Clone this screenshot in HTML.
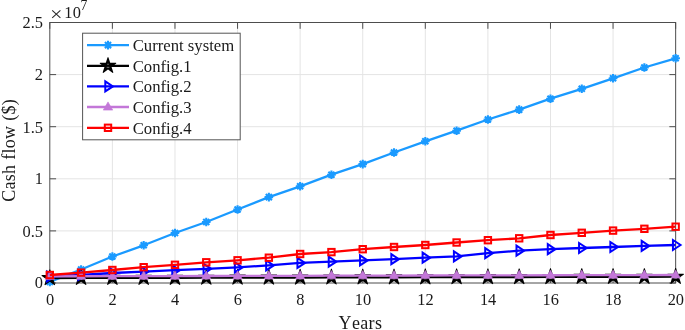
<!DOCTYPE html><html><head><meta charset="utf-8"><style>html,body{margin:0;padding:0;background:#fff}svg{display:block;will-change:transform}text{font-family:"Liberation Serif",serif;fill:#1a1a1a}</style></head><body>
<svg width="685" height="330" viewBox="0 0 685 330">
<rect width="685" height="330" fill="#fff"/>
<path d="M112.38,22.5V283.0M174.97,22.5V283.0M237.56,22.5V283.0M300.14,22.5V283.0M362.73,22.5V283.0M425.31,22.5V283.0M487.90,22.5V283.0M550.48,22.5V283.0M613.06,22.5V283.0M49.8,230.90H675.65M49.8,178.80H675.65M49.8,126.70H675.65M49.8,74.60H675.65" stroke="#e4e4e4" stroke-width="1" fill="none"/>
<rect x="49.8" y="22.5" width="625.85" height="260.5" fill="none" stroke="#4d4d4d" stroke-width="1"/>
<path d="M49.80,283.0v-6.3M49.80,22.5v6.3M112.38,283.0v-6.3M112.38,22.5v6.3M174.97,283.0v-6.3M174.97,22.5v6.3M237.56,283.0v-6.3M237.56,22.5v6.3M300.14,283.0v-6.3M300.14,22.5v6.3M362.73,283.0v-6.3M362.73,22.5v6.3M425.31,283.0v-6.3M425.31,22.5v6.3M487.90,283.0v-6.3M487.90,22.5v6.3M550.48,283.0v-6.3M550.48,22.5v6.3M613.06,283.0v-6.3M613.06,22.5v6.3M675.65,283.0v-6.3M675.65,22.5v6.3M49.8,283.00h6.3M675.65,283.00h-6.3M49.8,230.90h6.3M675.65,230.90h-6.3M49.8,178.80h6.3M675.65,178.80h-6.3M49.8,126.70h6.3M675.65,126.70h-6.3M49.8,74.60h6.3M675.65,74.60h-6.3M49.8,22.50h6.3M675.65,22.50h-6.3" stroke="#4d4d4d" stroke-width="1" fill="none"/>
<text x="50.00" y="304.7" font-size="16.4" text-anchor="middle">0</text>
<text x="112.58" y="304.7" font-size="16.4" text-anchor="middle">2</text>
<text x="175.17" y="304.7" font-size="16.4" text-anchor="middle">4</text>
<text x="237.75" y="304.7" font-size="16.4" text-anchor="middle">6</text>
<text x="300.34" y="304.7" font-size="16.4" text-anchor="middle">8</text>
<text x="362.93" y="304.7" font-size="16.4" text-anchor="middle">10</text>
<text x="425.51" y="304.7" font-size="16.4" text-anchor="middle">12</text>
<text x="488.10" y="304.7" font-size="16.4" text-anchor="middle">14</text>
<text x="550.68" y="304.7" font-size="16.4" text-anchor="middle">16</text>
<text x="613.26" y="304.7" font-size="16.4" text-anchor="middle">18</text>
<text x="675.85" y="304.7" font-size="16.4" text-anchor="middle">20</text>
<text x="43.0" y="288.20" font-size="16.4" text-anchor="end">0</text>
<text x="43.0" y="236.60" font-size="16.4" text-anchor="end">0.5</text>
<text x="43.0" y="184.40" font-size="16.4" text-anchor="end">1</text>
<text x="43.0" y="132.70" font-size="16.4" text-anchor="end">1.5</text>
<text x="43.0" y="79.60" font-size="16.4" text-anchor="end">2</text>
<text x="43.0" y="27.70" font-size="16.4" text-anchor="end">2.5</text>
<path d="M52.2,10.4L60.4,17.8M60.4,10.4L52.2,17.8" stroke="#2a2a2a" stroke-width="1.1" fill="none"/>
<text x="64.3" y="17.9" font-size="16.4" letter-spacing="0.2">10</text>
<text x="80.5" y="9.7" font-size="13.7">7</text>
<text x="360.4" y="328.9" font-size="18" text-anchor="middle" letter-spacing="0.35" style="font-kerning:none">Years</text>
<text transform="translate(14.7,150.4) rotate(-90)" font-size="18" text-anchor="middle" letter-spacing="0.3">Cash flow ($)</text>
<g clip-path="none">
<polyline points="49.80,281.90 81.09,269.50 112.38,256.50 143.68,245.30 174.97,233.00 206.26,222.00 237.56,209.50 268.85,197.10 300.14,186.30 331.43,174.70 362.73,164.10 394.02,152.50 425.31,141.30 456.60,130.70 487.90,119.50 519.19,109.60 550.48,98.70 581.77,88.80 613.06,78.30 644.36,67.50 675.65,58.30" fill="none" stroke="#1a9aff" stroke-width="2.3" stroke-linejoin="round"/>
<path d="M45.50,281.90L54.10,281.90M46.76,278.86L52.84,284.94M49.80,277.60L49.80,286.20M52.84,278.86L46.76,284.94" stroke="#1a9aff" stroke-width="2.1" fill="none"/>
<path d="M76.79,269.50L85.39,269.50M78.05,266.46L84.13,272.54M81.09,265.20L81.09,273.80M84.13,266.46L78.05,272.54" stroke="#1a9aff" stroke-width="2.1" fill="none"/>
<path d="M108.08,256.50L116.68,256.50M109.34,253.46L115.43,259.54M112.38,252.20L112.38,260.80M115.43,253.46L109.34,259.54" stroke="#1a9aff" stroke-width="2.1" fill="none"/>
<path d="M139.38,245.30L147.98,245.30M140.64,242.26L146.72,248.34M143.68,241.00L143.68,249.60M146.72,242.26L140.64,248.34" stroke="#1a9aff" stroke-width="2.1" fill="none"/>
<path d="M170.67,233.00L179.27,233.00M171.93,229.96L178.01,236.04M174.97,228.70L174.97,237.30M178.01,229.96L171.93,236.04" stroke="#1a9aff" stroke-width="2.1" fill="none"/>
<path d="M201.96,222.00L210.56,222.00M203.22,218.96L209.30,225.04M206.26,217.70L206.26,226.30M209.30,218.96L203.22,225.04" stroke="#1a9aff" stroke-width="2.1" fill="none"/>
<path d="M233.25,209.50L241.86,209.50M234.51,206.46L240.60,212.54M237.56,205.20L237.56,213.80M240.60,206.46L234.51,212.54" stroke="#1a9aff" stroke-width="2.1" fill="none"/>
<path d="M264.55,197.10L273.15,197.10M265.81,194.06L271.89,200.14M268.85,192.80L268.85,201.40M271.89,194.06L265.81,200.14" stroke="#1a9aff" stroke-width="2.1" fill="none"/>
<path d="M295.84,186.30L304.44,186.30M297.10,183.26L303.18,189.34M300.14,182.00L300.14,190.60M303.18,183.26L297.10,189.34" stroke="#1a9aff" stroke-width="2.1" fill="none"/>
<path d="M327.13,174.70L335.73,174.70M328.39,171.66L334.47,177.74M331.43,170.40L331.43,179.00M334.47,171.66L328.39,177.74" stroke="#1a9aff" stroke-width="2.1" fill="none"/>
<path d="M358.43,164.10L367.03,164.10M359.68,161.06L365.77,167.14M362.73,159.80L362.73,168.40M365.77,161.06L359.68,167.14" stroke="#1a9aff" stroke-width="2.1" fill="none"/>
<path d="M389.72,152.50L398.32,152.50M390.98,149.46L397.06,155.54M394.02,148.20L394.02,156.80M397.06,149.46L390.98,155.54" stroke="#1a9aff" stroke-width="2.1" fill="none"/>
<path d="M421.01,141.30L429.61,141.30M422.27,138.26L428.35,144.34M425.31,137.00L425.31,145.60M428.35,138.26L422.27,144.34" stroke="#1a9aff" stroke-width="2.1" fill="none"/>
<path d="M452.30,130.70L460.90,130.70M453.56,127.66L459.64,133.74M456.60,126.40L456.60,135.00M459.64,127.66L453.56,133.74" stroke="#1a9aff" stroke-width="2.1" fill="none"/>
<path d="M483.60,119.50L492.20,119.50M484.85,116.46L490.94,122.54M487.90,115.20L487.90,123.80M490.94,116.46L484.85,122.54" stroke="#1a9aff" stroke-width="2.1" fill="none"/>
<path d="M514.89,109.60L523.49,109.60M516.15,106.56L522.23,112.64M519.19,105.30L519.19,113.90M522.23,106.56L516.15,112.64" stroke="#1a9aff" stroke-width="2.1" fill="none"/>
<path d="M546.18,98.70L554.78,98.70M547.44,95.66L553.52,101.74M550.48,94.40L550.48,103.00M553.52,95.66L547.44,101.74" stroke="#1a9aff" stroke-width="2.1" fill="none"/>
<path d="M577.47,88.80L586.07,88.80M578.73,85.76L584.81,91.84M581.77,84.50L581.77,93.10M584.81,85.76L578.73,91.84" stroke="#1a9aff" stroke-width="2.1" fill="none"/>
<path d="M608.76,78.30L617.36,78.30M610.02,75.26L616.11,81.34M613.06,74.00L613.06,82.60M616.11,75.26L610.02,81.34" stroke="#1a9aff" stroke-width="2.1" fill="none"/>
<path d="M640.06,67.50L648.66,67.50M641.32,64.46L647.40,70.54M644.36,63.20L644.36,71.80M647.40,64.46L641.32,70.54" stroke="#1a9aff" stroke-width="2.1" fill="none"/>
<path d="M671.35,58.30L679.95,58.30M672.61,55.26L678.69,61.34M675.65,54.00L675.65,62.60M678.69,55.26L672.61,61.34" stroke="#1a9aff" stroke-width="2.1" fill="none"/>
<polyline points="49.80,278.00 81.09,277.94 112.38,277.87 143.68,277.81 174.97,277.74 206.26,277.68 237.56,277.61 268.85,277.55 300.14,277.48 331.43,277.42 362.73,277.35 394.02,277.28 425.31,277.22 456.60,277.15 487.90,277.09 519.19,277.02 550.48,276.96 581.77,276.89 613.06,276.83 644.36,276.76 675.65,276.70" fill="none" stroke="#000000" stroke-width="2.3" stroke-linejoin="round"/>
<polygon points="49.41,269.40 50.19,269.40 52.00,274.97 57.86,274.97 58.10,275.71 53.36,279.16 55.17,284.73 54.54,285.19 49.80,281.74 45.06,285.19 44.43,284.73 46.24,279.16 41.50,275.71 41.74,274.97 47.60,274.97" fill="#000000"/><path d="M49.00,276.45h1.6M48.50,279.55h2.6" stroke="#fff" stroke-width="0.7" opacity="0.65" fill="none"/>
<polygon points="80.70,269.33 81.48,269.33 83.29,274.91 89.15,274.91 89.39,275.65 84.65,279.09 86.46,284.66 85.83,285.12 81.09,281.68 76.35,285.12 75.72,284.66 77.53,279.09 72.79,275.65 73.03,274.91 78.89,274.91" fill="#000000"/><path d="M80.29,276.38h1.6M79.79,279.49h2.6" stroke="#fff" stroke-width="0.7" opacity="0.65" fill="none"/>
<polygon points="112.00,269.27 112.77,269.27 114.59,274.84 120.44,274.84 120.68,275.58 115.95,279.03 117.76,284.60 117.12,285.06 112.38,281.61 107.65,285.06 107.01,284.60 108.82,279.03 104.09,275.58 104.33,274.84 110.18,274.84" fill="#000000"/><path d="M111.58,276.32h1.6M111.08,279.42h2.6" stroke="#fff" stroke-width="0.7" opacity="0.65" fill="none"/>
<polygon points="143.29,269.20 144.07,269.20 145.88,274.78 151.74,274.78 151.98,275.52 147.24,278.96 149.05,284.53 148.42,284.99 143.68,281.55 138.94,284.99 138.31,284.53 140.12,278.96 135.38,275.52 135.62,274.78 141.48,274.78" fill="#000000"/><path d="M142.88,276.25h1.6M142.38,279.36h2.6" stroke="#fff" stroke-width="0.7" opacity="0.65" fill="none"/>
<polygon points="174.58,269.14 175.36,269.14 177.17,274.71 183.03,274.71 183.27,275.45 178.53,278.90 180.34,284.47 179.71,284.93 174.97,281.48 170.23,284.93 169.60,284.47 171.41,278.90 166.67,275.45 166.91,274.71 172.77,274.71" fill="#000000"/><path d="M174.17,276.19h1.6M173.67,279.29h2.6" stroke="#fff" stroke-width="0.7" opacity="0.65" fill="none"/>
<polygon points="205.87,269.07 206.65,269.07 208.46,274.65 214.32,274.65 214.56,275.39 209.82,278.83 211.63,284.40 211.00,284.86 206.26,281.42 201.52,284.86 200.89,284.40 202.70,278.83 197.96,275.39 198.20,274.65 204.06,274.65" fill="#000000"/><path d="M205.46,276.12h1.6M204.96,279.23h2.6" stroke="#fff" stroke-width="0.7" opacity="0.65" fill="none"/>
<polygon points="237.17,269.01 237.94,269.01 239.76,274.58 245.61,274.58 245.85,275.32 241.12,278.77 242.93,284.34 242.29,284.80 237.56,281.35 232.82,284.80 232.18,284.34 233.99,278.77 229.26,275.32 229.50,274.58 235.35,274.58" fill="#000000"/><path d="M236.75,276.06h1.6M236.25,279.16h2.6" stroke="#fff" stroke-width="0.7" opacity="0.65" fill="none"/>
<polygon points="268.46,268.94 269.24,268.94 271.05,274.52 276.91,274.52 277.15,275.26 272.41,278.70 274.22,284.27 273.59,284.73 268.85,281.29 264.11,284.73 263.48,284.27 265.29,278.70 260.55,275.26 260.79,274.52 266.65,274.52" fill="#000000"/><path d="M268.05,276.00h1.6M267.55,279.10h2.6" stroke="#fff" stroke-width="0.7" opacity="0.65" fill="none"/>
<polygon points="299.75,268.88 300.53,268.88 302.34,274.45 308.20,274.45 308.44,275.19 303.70,278.64 305.51,284.21 304.88,284.67 300.14,281.22 295.40,284.67 294.77,284.21 296.58,278.64 291.84,275.19 292.08,274.45 297.94,274.45" fill="#000000"/><path d="M299.34,275.93h1.6M298.84,279.03h2.6" stroke="#fff" stroke-width="0.7" opacity="0.65" fill="none"/>
<polygon points="331.04,268.81 331.82,268.81 333.63,274.39 339.49,274.39 339.73,275.13 334.99,278.57 336.80,284.14 336.17,284.60 331.43,281.16 326.69,284.60 326.06,284.14 327.87,278.57 323.13,275.13 323.37,274.39 329.23,274.39" fill="#000000"/><path d="M330.63,275.87h1.6M330.13,278.97h2.6" stroke="#fff" stroke-width="0.7" opacity="0.65" fill="none"/>
<polygon points="362.34,268.75 363.11,268.75 364.93,274.32 370.78,274.32 371.02,275.06 366.29,278.51 368.10,284.08 367.46,284.54 362.73,281.09 357.99,284.54 357.35,284.08 359.16,278.51 354.43,275.06 354.67,274.32 360.52,274.32" fill="#000000"/><path d="M361.93,275.80h1.6M361.43,278.90h2.6" stroke="#fff" stroke-width="0.7" opacity="0.65" fill="none"/>
<polygon points="393.63,268.68 394.41,268.68 396.22,274.26 402.08,274.26 402.32,275.00 397.58,278.44 399.39,284.01 398.76,284.47 394.02,281.03 389.28,284.47 388.65,284.01 390.46,278.44 385.72,275.00 385.96,274.26 391.82,274.26" fill="#000000"/><path d="M393.22,275.73h1.6M392.72,278.83h2.6" stroke="#fff" stroke-width="0.7" opacity="0.65" fill="none"/>
<polygon points="424.92,268.62 425.70,268.62 427.51,274.19 433.37,274.19 433.61,274.93 428.87,278.38 430.68,283.95 430.05,284.41 425.31,280.96 420.57,284.41 419.94,283.95 421.75,278.38 417.01,274.93 417.25,274.19 423.11,274.19" fill="#000000"/><path d="M424.51,275.67h1.6M424.01,278.77h2.6" stroke="#fff" stroke-width="0.7" opacity="0.65" fill="none"/>
<polygon points="456.21,268.55 456.99,268.55 458.80,274.13 464.66,274.13 464.90,274.87 460.16,278.31 461.97,283.88 461.34,284.34 456.60,280.90 451.86,284.34 451.23,283.88 453.04,278.31 448.30,274.87 448.54,274.13 454.40,274.13" fill="#000000"/><path d="M455.80,275.60h1.6M455.30,278.70h2.6" stroke="#fff" stroke-width="0.7" opacity="0.65" fill="none"/>
<polygon points="487.51,268.49 488.28,268.49 490.10,274.06 495.95,274.06 496.19,274.80 491.46,278.25 493.27,283.82 492.63,284.28 487.90,280.83 483.16,284.28 482.52,283.82 484.33,278.25 479.60,274.80 479.84,274.06 485.69,274.06" fill="#000000"/><path d="M487.10,275.54h1.6M486.60,278.64h2.6" stroke="#fff" stroke-width="0.7" opacity="0.65" fill="none"/>
<polygon points="518.80,268.42 519.58,268.42 521.39,274.00 527.25,274.00 527.49,274.74 522.75,278.18 524.56,283.75 523.93,284.21 519.19,280.77 514.45,284.21 513.82,283.75 515.63,278.18 510.89,274.74 511.13,274.00 516.99,274.00" fill="#000000"/><path d="M518.39,275.47h1.6M517.89,278.57h2.6" stroke="#fff" stroke-width="0.7" opacity="0.65" fill="none"/>
<polygon points="550.09,268.36 550.87,268.36 552.68,273.93 558.54,273.93 558.78,274.67 554.04,278.12 555.85,283.69 555.22,284.15 550.48,280.70 545.74,284.15 545.11,283.69 546.92,278.12 542.18,274.67 542.42,273.93 548.28,273.93" fill="#000000"/><path d="M549.68,275.41h1.6M549.18,278.51h2.6" stroke="#fff" stroke-width="0.7" opacity="0.65" fill="none"/>
<polygon points="581.38,268.29 582.16,268.29 583.97,273.87 589.83,273.87 590.07,274.61 585.33,278.05 587.14,283.62 586.51,284.08 581.77,280.64 577.03,284.08 576.40,283.62 578.21,278.05 573.47,274.61 573.71,273.87 579.57,273.87" fill="#000000"/><path d="M580.97,275.34h1.6M580.47,278.44h2.6" stroke="#fff" stroke-width="0.7" opacity="0.65" fill="none"/>
<polygon points="612.68,268.23 613.45,268.23 615.27,273.80 621.12,273.80 621.36,274.54 616.63,277.99 618.44,283.56 617.80,284.02 613.06,280.57 608.33,284.02 607.69,283.56 609.50,277.99 604.77,274.54 605.01,273.80 610.86,273.80" fill="#000000"/><path d="M612.26,275.28h1.6M611.76,278.38h2.6" stroke="#fff" stroke-width="0.7" opacity="0.65" fill="none"/>
<polygon points="643.97,268.16 644.75,268.16 646.56,273.74 652.42,273.74 652.66,274.48 647.92,277.92 649.73,283.49 649.10,283.95 644.36,280.51 639.62,283.95 638.99,283.49 640.80,277.92 636.06,274.48 636.30,273.74 642.16,273.74" fill="#000000"/><path d="M643.56,275.21h1.6M643.06,278.31h2.6" stroke="#fff" stroke-width="0.7" opacity="0.65" fill="none"/>
<polygon points="675.26,268.10 676.04,268.10 677.85,273.67 683.71,273.67 683.95,274.41 679.21,277.86 681.02,283.43 680.39,283.89 675.65,280.44 670.91,283.89 670.28,283.43 672.09,277.86 667.35,274.41 667.59,273.67 673.45,273.67" fill="#000000"/><path d="M674.85,275.15h1.6M674.35,278.25h2.6" stroke="#fff" stroke-width="0.7" opacity="0.65" fill="none"/>
<polyline points="49.80,276.50 81.09,275.00 112.38,273.00 143.68,271.60 174.97,270.20 206.26,268.80 237.56,267.40 268.85,265.40 300.14,262.90 331.43,261.70 362.73,260.40 394.02,259.20 425.31,257.70 456.60,256.40 487.90,253.20 519.19,250.70 550.48,249.20 581.77,248.00 613.06,247.00 644.36,245.90 675.65,245.00" fill="none" stroke="#0000ff" stroke-width="2.3" stroke-linejoin="round"/>
<path d="M47.10,271.50L54.70,276.50L47.10,281.50Z" fill="none" stroke="#0000ff" stroke-width="2" stroke-linejoin="miter"/>
<path d="M78.39,270.00L85.99,275.00L78.39,280.00Z" fill="none" stroke="#0000ff" stroke-width="2" stroke-linejoin="miter"/>
<path d="M109.68,268.00L117.28,273.00L109.68,278.00Z" fill="none" stroke="#0000ff" stroke-width="2" stroke-linejoin="miter"/>
<path d="M140.98,266.60L148.58,271.60L140.98,276.60Z" fill="none" stroke="#0000ff" stroke-width="2" stroke-linejoin="miter"/>
<path d="M172.27,265.20L179.87,270.20L172.27,275.20Z" fill="none" stroke="#0000ff" stroke-width="2" stroke-linejoin="miter"/>
<path d="M203.56,263.80L211.16,268.80L203.56,273.80Z" fill="none" stroke="#0000ff" stroke-width="2" stroke-linejoin="miter"/>
<path d="M234.86,262.40L242.46,267.40L234.86,272.40Z" fill="none" stroke="#0000ff" stroke-width="2" stroke-linejoin="miter"/>
<path d="M266.15,260.40L273.75,265.40L266.15,270.40Z" fill="none" stroke="#0000ff" stroke-width="2" stroke-linejoin="miter"/>
<path d="M297.44,257.90L305.04,262.90L297.44,267.90Z" fill="none" stroke="#0000ff" stroke-width="2" stroke-linejoin="miter"/>
<path d="M328.73,256.70L336.33,261.70L328.73,266.70Z" fill="none" stroke="#0000ff" stroke-width="2" stroke-linejoin="miter"/>
<path d="M360.03,255.40L367.62,260.40L360.03,265.40Z" fill="none" stroke="#0000ff" stroke-width="2" stroke-linejoin="miter"/>
<path d="M391.32,254.20L398.92,259.20L391.32,264.20Z" fill="none" stroke="#0000ff" stroke-width="2" stroke-linejoin="miter"/>
<path d="M422.61,252.70L430.21,257.70L422.61,262.70Z" fill="none" stroke="#0000ff" stroke-width="2" stroke-linejoin="miter"/>
<path d="M453.90,251.40L461.50,256.40L453.90,261.40Z" fill="none" stroke="#0000ff" stroke-width="2" stroke-linejoin="miter"/>
<path d="M485.20,248.20L492.80,253.20L485.20,258.20Z" fill="none" stroke="#0000ff" stroke-width="2" stroke-linejoin="miter"/>
<path d="M516.49,245.70L524.09,250.70L516.49,255.70Z" fill="none" stroke="#0000ff" stroke-width="2" stroke-linejoin="miter"/>
<path d="M547.78,244.20L555.38,249.20L547.78,254.20Z" fill="none" stroke="#0000ff" stroke-width="2" stroke-linejoin="miter"/>
<path d="M579.07,243.00L586.67,248.00L579.07,253.00Z" fill="none" stroke="#0000ff" stroke-width="2" stroke-linejoin="miter"/>
<path d="M610.36,242.00L617.96,247.00L610.36,252.00Z" fill="none" stroke="#0000ff" stroke-width="2" stroke-linejoin="miter"/>
<path d="M641.66,240.90L649.26,245.90L641.66,250.90Z" fill="none" stroke="#0000ff" stroke-width="2" stroke-linejoin="miter"/>
<path d="M672.95,240.00L680.55,245.00L672.95,250.00Z" fill="none" stroke="#0000ff" stroke-width="2" stroke-linejoin="miter"/>
<polyline points="49.80,276.30 81.09,276.24 112.38,276.17 143.68,276.11 174.97,276.04 206.26,275.98 237.56,275.91 268.85,275.85 300.14,275.78 331.43,275.72 362.73,275.65 394.02,275.58 425.31,275.52 456.60,275.45 487.90,275.39 519.19,275.32 550.48,275.26 581.77,275.19 613.06,275.13 644.36,275.06 675.65,275.00" fill="none" stroke="#c377d8" stroke-width="2.3" stroke-linejoin="round"/>
<path d="M49.80,271.20L54.50,279.40L45.10,279.40Z" fill="#c377d8" stroke="#c377d8" stroke-width="0.6"/>
<path d="M81.09,271.13L85.79,279.34L76.39,279.34Z" fill="#c377d8" stroke="#c377d8" stroke-width="0.6"/>
<path d="M112.38,271.07L117.08,279.27L107.68,279.27Z" fill="#c377d8" stroke="#c377d8" stroke-width="0.6"/>
<path d="M143.68,271.00L148.38,279.21L138.98,279.21Z" fill="#c377d8" stroke="#c377d8" stroke-width="0.6"/>
<path d="M174.97,270.94L179.67,279.14L170.27,279.14Z" fill="#c377d8" stroke="#c377d8" stroke-width="0.6"/>
<path d="M206.26,270.88L210.96,279.08L201.56,279.08Z" fill="#c377d8" stroke="#c377d8" stroke-width="0.6"/>
<path d="M237.56,270.81L242.25,279.01L232.86,279.01Z" fill="#c377d8" stroke="#c377d8" stroke-width="0.6"/>
<path d="M268.85,270.75L273.55,278.95L264.15,278.95Z" fill="#c377d8" stroke="#c377d8" stroke-width="0.6"/>
<path d="M300.14,270.68L304.84,278.88L295.44,278.88Z" fill="#c377d8" stroke="#c377d8" stroke-width="0.6"/>
<path d="M331.43,270.62L336.13,278.82L326.73,278.82Z" fill="#c377d8" stroke="#c377d8" stroke-width="0.6"/>
<path d="M362.73,270.55L367.43,278.75L358.03,278.75Z" fill="#c377d8" stroke="#c377d8" stroke-width="0.6"/>
<path d="M394.02,270.48L398.72,278.69L389.32,278.69Z" fill="#c377d8" stroke="#c377d8" stroke-width="0.6"/>
<path d="M425.31,270.42L430.01,278.62L420.61,278.62Z" fill="#c377d8" stroke="#c377d8" stroke-width="0.6"/>
<path d="M456.60,270.35L461.30,278.56L451.90,278.56Z" fill="#c377d8" stroke="#c377d8" stroke-width="0.6"/>
<path d="M487.90,270.29L492.60,278.49L483.20,278.49Z" fill="#c377d8" stroke="#c377d8" stroke-width="0.6"/>
<path d="M519.19,270.22L523.89,278.43L514.49,278.43Z" fill="#c377d8" stroke="#c377d8" stroke-width="0.6"/>
<path d="M550.48,270.16L555.18,278.36L545.78,278.36Z" fill="#c377d8" stroke="#c377d8" stroke-width="0.6"/>
<path d="M581.77,270.09L586.47,278.30L577.07,278.30Z" fill="#c377d8" stroke="#c377d8" stroke-width="0.6"/>
<path d="M613.06,270.03L617.76,278.23L608.36,278.23Z" fill="#c377d8" stroke="#c377d8" stroke-width="0.6"/>
<path d="M644.36,269.96L649.06,278.17L639.66,278.17Z" fill="#c377d8" stroke="#c377d8" stroke-width="0.6"/>
<path d="M675.65,269.90L680.35,278.10L670.95,278.10Z" fill="#c377d8" stroke="#c377d8" stroke-width="0.6"/>
<polyline points="49.80,275.00 81.09,272.60 112.38,270.00 143.68,267.20 174.97,264.80 206.26,262.30 237.56,260.30 268.85,257.70 300.14,254.00 331.43,252.10 362.73,249.20 394.02,247.00 425.31,245.00 456.60,242.50 487.90,240.20 519.19,238.30 550.48,235.00 581.77,232.80 613.06,230.60 644.36,228.80 675.65,226.70" fill="none" stroke="#ff0000" stroke-width="2.3" stroke-linejoin="round"/>
<rect x="46.60" y="271.80" width="6.4" height="6.4" fill="none" stroke="#ff0000" stroke-width="2"/>
<rect x="77.89" y="269.40" width="6.4" height="6.4" fill="none" stroke="#ff0000" stroke-width="2"/>
<rect x="109.18" y="266.80" width="6.4" height="6.4" fill="none" stroke="#ff0000" stroke-width="2"/>
<rect x="140.48" y="264.00" width="6.4" height="6.4" fill="none" stroke="#ff0000" stroke-width="2"/>
<rect x="171.77" y="261.60" width="6.4" height="6.4" fill="none" stroke="#ff0000" stroke-width="2"/>
<rect x="203.06" y="259.10" width="6.4" height="6.4" fill="none" stroke="#ff0000" stroke-width="2"/>
<rect x="234.36" y="257.10" width="6.4" height="6.4" fill="none" stroke="#ff0000" stroke-width="2"/>
<rect x="265.65" y="254.50" width="6.4" height="6.4" fill="none" stroke="#ff0000" stroke-width="2"/>
<rect x="296.94" y="250.80" width="6.4" height="6.4" fill="none" stroke="#ff0000" stroke-width="2"/>
<rect x="328.23" y="248.90" width="6.4" height="6.4" fill="none" stroke="#ff0000" stroke-width="2"/>
<rect x="359.53" y="246.00" width="6.4" height="6.4" fill="none" stroke="#ff0000" stroke-width="2"/>
<rect x="390.82" y="243.80" width="6.4" height="6.4" fill="none" stroke="#ff0000" stroke-width="2"/>
<rect x="422.11" y="241.80" width="6.4" height="6.4" fill="none" stroke="#ff0000" stroke-width="2"/>
<rect x="453.40" y="239.30" width="6.4" height="6.4" fill="none" stroke="#ff0000" stroke-width="2"/>
<rect x="484.70" y="237.00" width="6.4" height="6.4" fill="none" stroke="#ff0000" stroke-width="2"/>
<rect x="515.99" y="235.10" width="6.4" height="6.4" fill="none" stroke="#ff0000" stroke-width="2"/>
<rect x="547.28" y="231.80" width="6.4" height="6.4" fill="none" stroke="#ff0000" stroke-width="2"/>
<rect x="578.57" y="229.60" width="6.4" height="6.4" fill="none" stroke="#ff0000" stroke-width="2"/>
<rect x="609.86" y="227.40" width="6.4" height="6.4" fill="none" stroke="#ff0000" stroke-width="2"/>
<rect x="641.16" y="225.60" width="6.4" height="6.4" fill="none" stroke="#ff0000" stroke-width="2"/>
<rect x="672.45" y="223.50" width="6.4" height="6.4" fill="none" stroke="#ff0000" stroke-width="2"/>
</g>
<rect x="82.6" y="33.2" width="157.6" height="106.6" fill="#fff" stroke="#555" stroke-width="1"/>
<path d="M87,45.1H129" stroke="#1a9aff" stroke-width="2.3"/>
<path d="M103.70,45.10L112.30,45.10M104.96,42.06L111.04,48.14M108.00,40.80L108.00,49.40M111.04,42.06L104.96,48.14" stroke="#1a9aff" stroke-width="2.1" fill="none"/>
<text x="132.7" y="51.10" font-size="16.7">Current system</text>
<path d="M87,65.8H129" stroke="#000000" stroke-width="2.3"/>
<polygon points="107.61,57.20 108.39,57.20 110.20,62.77 116.06,62.77 116.30,63.51 111.56,66.96 113.37,72.53 112.74,72.99 108.00,69.54 103.26,72.99 102.63,72.53 104.44,66.96 99.70,63.51 99.94,62.77 105.80,62.77" fill="#000000"/><path d="M107.20,64.25h1.6M106.70,67.35h2.6" stroke="#fff" stroke-width="0.7" opacity="0.65" fill="none"/>
<text x="132.7" y="71.80" font-size="16.7">Config.1</text>
<path d="M87,86.4H129" stroke="#0000ff" stroke-width="2.3"/>
<path d="M105.30,81.40L112.90,86.40L105.30,91.40Z" fill="none" stroke="#0000ff" stroke-width="2" stroke-linejoin="miter"/>
<text x="132.7" y="92.40" font-size="16.7">Config.2</text>
<path d="M87,107.0H129" stroke="#c377d8" stroke-width="2.3"/>
<path d="M108.00,101.90L112.70,110.10L103.30,110.10Z" fill="#c377d8" stroke="#c377d8" stroke-width="0.6"/>
<text x="132.7" y="113.00" font-size="16.7">Config.3</text>
<path d="M87,127.8H129" stroke="#ff0000" stroke-width="2.3"/>
<rect x="104.80" y="124.60" width="6.4" height="6.4" fill="none" stroke="#ff0000" stroke-width="2"/>
<text x="132.7" y="133.80" font-size="16.7">Config.4</text>
</svg></body></html>
